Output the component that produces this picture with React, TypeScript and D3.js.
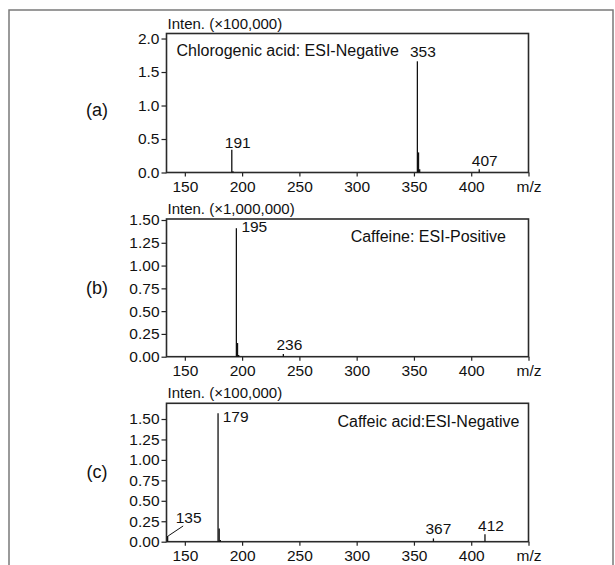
import React, { useRef, useEffect } from 'react';
import * as d3 from 'd3';

// peak lists (intensity in the panel's own unit)
const chlorogenicMz = [191, 192, 353, 354, 355, 407];
const chlorogenicInt = [0.34, 0.02, 1.66, 0.3, 0.05, 0.05];
const caffeineMz = [195, 196, 197, 236];
const caffeineInt = [1.41, 0.15, 0.02, 0.03];
const caffeicMz = [135, 179, 180, 181, 367, 412];
const caffeicInt = [0.07, 1.57, 0.16, 0.02, 0.04, 0.09];

const panelLetters = ['(a)', '(b)', '(c)'];
const panelTitles = ['Chlorogenic acid: ESI-Negative', 'Caffeine: ESI-Positive', 'Caffeic acid:ESI-Negative'];
const intensityUnits = ['Inten. (×100,000)', 'Inten. (×1,000,000)', 'Inten. (×100,000)'];
const xTicks = [150, 200, 250, 300, 350, 400, 450];
const yTicksA = [0, 0.5, 1.0, 1.5, 2.0];
const yTicksBC = [0, 0.25, 0.5, 0.75, 1.0, 1.25, 1.5];
const labelledA = [191, 353, 407];
const labelledB = [195, 236];
const labelledC = [135, 179, 367, 412];

const FONT = '"Liberation Sans", Arial, Helvetica, sans-serif';

const panels = [
  {
    mz: chlorogenicMz, inten: chlorogenicInt, yTicks: yTicksA, fmt: '.1f', labelled: labelledA,
    top: 33.5, bottom: 172.5, yMax: 2.075,
    title: { x: 176.5, y: 55.5, anchor: 'start' }, letterY: 116,
    offsets: [
      { dx: 6, dy: -1.5, anchor: 'middle' },
      { dx: 5.5, dy: -4, anchor: 'middle' },
      { dx: 5.5, dy: -3, anchor: 'middle' },
    ],
  },
  {
    mz: caffeineMz, inten: caffeineInt, yTicks: yTicksBC, fmt: '.2f', labelled: labelledB,
    top: 219, bottom: 356.7, yMax: 1.511,
    title: { x: 506, y: 241.5, anchor: 'end' }, letterY: 294,
    offsets: [
      { dx: 5, dy: 4, anchor: 'start' },
      { dx: 6, dy: -3.5, anchor: 'middle' },
    ],
  },
  {
    mz: caffeicMz, inten: caffeicInt, yTicks: yTicksBC, fmt: '.2f', labelled: labelledC,
    top: 403.3, bottom: 541.7, yMax: 1.692,
    title: { x: 519.5, y: 426.5, anchor: 'end' }, letterY: 478,
    offsets: [
      { dx: 21, dy: -13, anchor: 'middle', leader: [15.5, -10] },
      { dx: 4.7, dy: 9, anchor: 'start' },
      { dx: 5, dy: -4, anchor: 'middle' },
      { dx: 6, dy: -3, anchor: 'middle' },
    ],
  },
];

export default function App() {
  const svgRef = useRef<SVGSVGElement>(null);

  useEffect(() => {
    const svg = d3.select(svgRef.current);
    svg.selectAll('*').remove();

    const left = 166.5;
    const right = 528.5;

    // outer frame
    svg.append('path')
      .attr('d', 'M9,570V10H613V570')
      .attr('fill', 'none')
      .attr('stroke', '#7a7a7a')
      .attr('stroke-width', 1.5);

    const x = d3.scaleLinear().domain([134, 450]).range([left, right]);

    panels.forEach((p, i) => {
      const y = d3.scaleLinear().domain([0, p.yMax]).range([p.bottom, p.top]);
      const g = svg.append('g');

      // x axis
      g.append('g')
        .attr('transform', `translate(0,${p.bottom})`)
        .call(
          d3.axisBottom(x).tickValues(xTicks).tickSize(4).tickPadding(4)
            .tickFormat((d) => (d === 450 ? 'm/z' : String(d)))
        )
        .call((a) => a.select('.domain').remove());

      // y axis
      g.append('g')
        .attr('transform', `translate(${left},0)`)
        .call(
          d3.axisLeft(y).tickValues(p.yTicks).tickSize(5).tickPadding(2)
            .tickFormat(d3.format(p.fmt))
        )
        .call((a) => a.select('.domain').remove());

      g.selectAll('.tick line').attr('stroke', '#222').attr('stroke-width', 1.2);
      g.selectAll('.tick text')
        .attr('fill', '#111')
        .style('font-family', FONT)
        .style('font-size', '15.5px');

      // plot box
      g.append('rect')
        .attr('x', left)
        .attr('y', p.top)
        .attr('width', right - left)
        .attr('height', p.bottom - p.top)
        .attr('fill', 'none')
        .attr('stroke', '#2a2a2a')
        .attr('stroke-width', 1.6);

      // peaks
      g.selectAll('line.peak')
        .data(p.mz.map((m, k) => ({ m, v: p.inten[k] })))
        .join('line')
        .attr('class', 'peak')
        .attr('x1', (d) => x(d.m))
        .attr('x2', (d) => x(d.m))
        .attr('y1', p.bottom)
        .attr('y2', (d) => y(d.v))
        .attr('stroke', '#111')
        .attr('stroke-width', 1.3);

      // peak labels
      p.labelled.forEach((m, k) => {
        const idx = p.mz.indexOf(m);
        const px = x(m);
        const py = y(p.inten[idx]);
        const o: any = p.offsets[k];
        if (o.leader) {
          g.append('line')
            .attr('x1', px + 0.5)
            .attr('y1', py)
            .attr('x2', px + o.leader[0])
            .attr('y2', py + o.leader[1])
            .attr('stroke', '#111')
            .attr('stroke-width', 1);
        }
        g.append('text')
          .attr('x', px + o.dx)
          .attr('y', py + o.dy)
          .attr('text-anchor', o.anchor)
          .attr('fill', '#111')
          .style('font-family', FONT)
          .style('font-size', '15.5px')
          .text(String(m));
      });

      // intensity unit above the box
      g.append('text')
        .attr('x', left + 1)
        .attr('y', p.top - 5)
        .attr('fill', '#111')
        .style('font-family', FONT)
        .style('font-size', '15px')
        .text(intensityUnits[i]);

      // compound annotation
      g.append('text')
        .attr('x', p.title.x)
        .attr('y', p.title.y)
        .attr('text-anchor', p.title.anchor)
        .attr('fill', '#111')
        .style('font-family', FONT)
        .style('font-size', '16px')
        .text(panelTitles[i]);

      // panel letter
      g.append('text')
        .attr('x', 97)
        .attr('y', p.letterY)
        .attr('text-anchor', 'middle')
        .attr('fill', '#111')
        .style('font-family', FONT)
        .style('font-size', '18px')
        .text(panelLetters[i]);
    });
  }, []);

  return (
    <svg
      ref={svgRef}
      width={615}
      height={565}
      style={{ position: 'absolute', left: 0, top: 0, background: '#fff' }}
    />
  );
}
